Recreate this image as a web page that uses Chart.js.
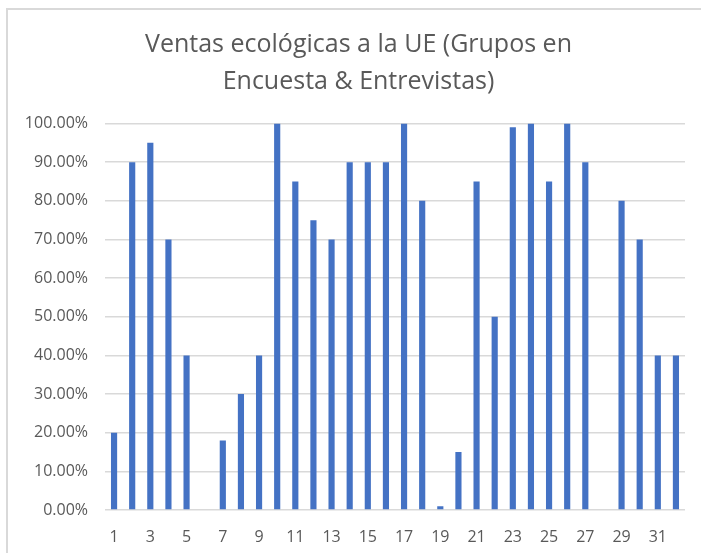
<!DOCTYPE html>
<html>
<head>
<meta charset="utf-8">
<script src="https://cdn.jsdelivr.net/npm/chart.js@4/dist/chart.umd.min.js"></script>
<style>
  html, body { margin: 0; padding: 0; background: #fff; }
  #frame { position: absolute; left: 6px; top: 8px; width: 720px; height: 600px;
           border-top: 2px solid #d9d9d9; border-left: 2px solid #d9d9d9; }
  #wrap { position: absolute; left: 0; top: 0; width: 701px; height: 553px; }
</style>
</head>
<body>
<div id="frame"></div>
<div id="wrap"><canvas id="myChart"></canvas></div>
<script>
// Datos del grafico
const titleLines = ['Ventas ecológicas a la UE (Grupos en', 'Encuesta & Entrevistas)'];
const groups = [];
for (let i = 1; i <= 32; i++) groups.push(String(i));
const salesPct = [20, 90, 95, 70, 40, 0, 18, 30, 40, 100, 85, 75, 70, 90, 90, 90,
                  100, 80, 1, 15, 85, 50, 99, 100, 85, 100, 90, 0, 80, 70, 40, 40];
const yTicks = [0, 10, 20, 30, 40, 50, 60, 70, 80, 90, 100];

const textGray = '#595959';

// centrar el titulo como en Excel (un poco a la derecha)
const shiftTitle = {
  id: 'shiftTitle',
  afterLayout(chart) {
    if (chart.titleBlock) {
      chart.titleBlock.left += 7;
      chart.titleBlock.right += 7;
    }
  }
};

function renderChart() {
  const ctx = document.querySelector('#myChart').getContext('2d');
  new Chart(ctx, {
    type: 'bar',
    data: {
      labels: groups,
      datasets: [
        {
          label: 'Ventas',
          data: salesPct,
          backgroundColor: '#4472c4',
          borderWidth: 0,
          barPercentage: 0.34,
          categoryPercentage: 1.0
        }
      ]
    },
    options: {
      responsive: true,
      maintainAspectRatio: false,
      animation: false,
      layout: { padding: { top: 10, right: 16, bottom: 7, left: 18 } },
      plugins: {
        legend: { display: false },
        tooltip: { enabled: false },
        title: {
          display: true,
          text: titleLines,
          color: textGray,
          font: { family: 'Open Sans', size: 25, weight: 'normal', lineHeight: 1.45 },
          padding: { top: 17, bottom: 24 }
        }
      },
      scales: {
        x: {
          afterFit: scale => { scale.height = 36; },
          grid: { display: false, drawTicks: false },
          border: { display: false },
          ticks: {
            color: textGray,
            font: { family: 'Open Sans', size: 16 },
            padding: 18,
            autoSkip: false,
            maxRotation: 0,
            callback: function (value, index) {
              return index % 2 === 0 ? this.getLabelForValue(value) : '';
            }
          }
        },
        y: {
          min: 0,
          max: 100,
          afterBuildTicks: scale => { scale.ticks = yTicks.map(v => ({ value: v })); },
          afterFit: scale => { scale.width = 87; },
          grid: { color: '#d9d9d9', lineWidth: 1.5, drawTicks: false },
          border: { display: false },
          ticks: {
            color: textGray,
            font: { family: 'Open Sans', size: 16 },
            padding: 17,
            callback: v => v.toFixed(2) + '%'
          }
        }
      }
    },
    plugins: [shiftTitle]
  });
}

renderChart();
</script>
</body>
</html>
